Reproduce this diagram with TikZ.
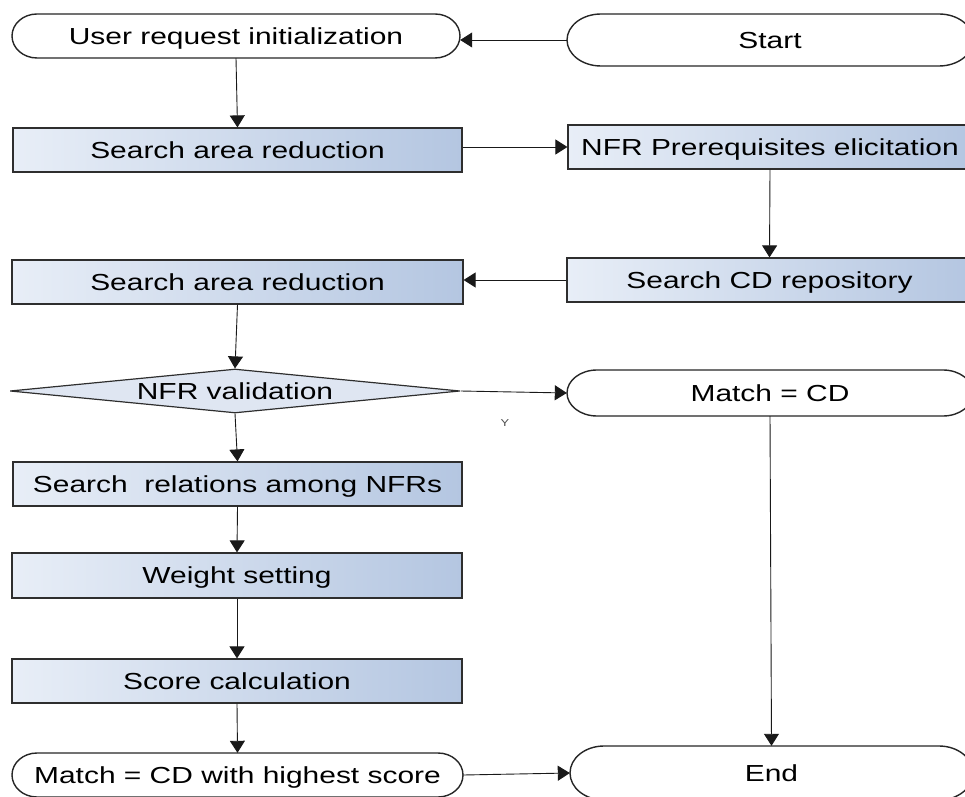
\documentclass[tikz,border=0pt]{standalone}
\usepackage{fontspec}
\setmainfont{Liberation Sans}[FakeStretch=1.29]
\usetikzlibrary{arrows.meta,shapes.geometric}
\definecolor{boxL}{HTML}{E8EEF7}
\definecolor{boxR}{HTML}{B4C6E1}
\definecolor{diaF}{HTML}{DFE6F2}
\definecolor{edge}{HTML}{2E2E2E}
\begin{document}
\begin{tikzpicture}[x=1pt,y=1pt,
  every node/.style={font=\fontsize{23.2}{27}\selectfont, text=black, inner sep=0pt},
  txt/.style={text height=16.6pt, text depth=0pt},
  procbox/.style={rectangle, txt, draw=edge, line width=1.2pt, left color=boxL, right color=boxR, minimum width=#1, minimum height=44pt},
  procbox/.default=450pt,
  termbox/.style={rectangle, txt, draw=none, minimum width=#1},
  decbox/.style={diamond, txt, draw=edge, line width=1.2pt, fill=diaF, aspect=10.2, minimum width=450pt, minimum height=44pt},
  termline/.style={draw=black!85, line width=1.4pt, fill=white},
  conn/.style={draw=black!90, line width=0.9pt, -{Triangle[length=12pt,width=15pt]}}
]
\useasboundingbox (0,0) rectangle (965,796);
\clip (0,0) rectangle (965,796);

% terminal outlines (elliptical ends)
\foreach \cx/\cy/\w/\ry/\rx in {236/760/448/22/25, 770/756/406/26/34, 770/403/406/23/30, 237.5/21/451/22/25, 771.5/23/403/27/34}{
  \draw[termline] ({\cx-\w/2+\rx},{\cy+\ry}) -- ({\cx+\w/2-\rx},{\cy+\ry})
    arc[start angle=90,end angle=-90,x radius=\rx,y radius=\ry]
    -- ({\cx-\w/2+\rx},{\cy-\ry})
    arc[start angle=270,end angle=90,x radius=\rx,y radius=\ry] -- cycle;
}

% terminals
\node[termbox=448pt, minimum height=44pt] (ur) at (236,760) {User request initialization};
\node[termbox=406pt, minimum height=52pt] (st) at (770,756) {Start};
\node[termbox=406pt, minimum height=46pt] (mcd) at (770,403) {Match = CD};
\node[termbox=451pt, minimum height=44pt] (mhs) at (237.5,21) {Match = CD with highest score};
\node[termbox=403pt, minimum height=54pt] (end) at (771.5,23) {End};

% process boxes
\node[procbox=449pt] (sar1) at (237.5,646) {Search area reduction};
\node[procbox=404pt] (nfrp) at (770,649) {NFR Prerequisites elicitation};
\node[procbox=405pt] (scd) at (769.5,516) {Search CD repository};
\node[procbox=451pt] (sar2) at (237.5,514) {Search area reduction};
\node[decbox] (val) at (235,405) {NFR validation};
\node[procbox=449pt] (srel) at (237.5,312) {Search~ relations among NFRs};
\node[procbox=450pt, minimum height=45pt] (ws) at (237,220.5) {Weight setting};
\node[procbox=450pt] (sc) at (237,115) {Score calculation};

\node[font=\fontsize{10}{12}\selectfont, text=black!70] (ylab) at (505,373) {Y};

% connectors
\draw[conn] (st.west) -- (st.west -| ur.east);
\draw[conn] (ur.south) -- (sar1.north);
\draw[conn] (nfrp.west -| sar1.east) -- (nfrp.west);
\draw[conn] (nfrp.south) -- (scd.north);
\draw[conn] (scd.west) -- (scd.west -| sar2.east);
\draw[conn] (sar2.south) -- (val.north);
\draw[conn] (val.east) -- (mcd.west);
\draw[conn] (val.south) -- (srel.north);
\draw[conn] (srel.south) -- (ws.north);
\draw[conn] (ws.south) -- (sc.north);
\draw[conn] (sc.south) -- (mhs.north);
\draw[conn] (mcd.south) -- (end.north);
\draw[conn] (mhs.east) -- (end.west);
\end{tikzpicture}
\end{document}
